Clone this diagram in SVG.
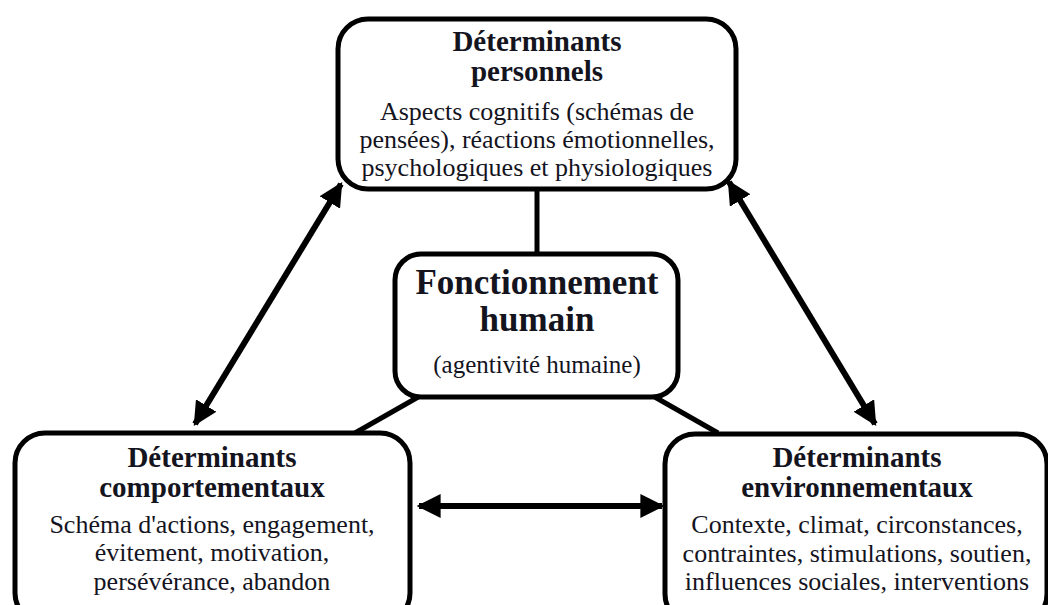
<svg xmlns="http://www.w3.org/2000/svg" width="1048" height="605" viewBox="0 0 1048 605">
<defs>
<marker id="ah" viewBox="0 0 10 10" refX="9" refY="5" markerWidth="4" markerHeight="4" markerUnits="strokeWidth" orient="auto-start-reverse">
<path d="M0,0 L10,5 L0,10 z" fill="#000"/>
</marker>
<style>
.box{fill:#fff;stroke:#000;stroke-width:5}
.ln{stroke:#000;stroke-width:5;fill:none}
.ar{stroke:#000;stroke-width:6;fill:none;marker-start:url(#ah);marker-end:url(#ah)}
text{font-family:"Liberation Serif","Times New Roman",serif;fill:#14141e;text-anchor:middle}
.t{font-weight:bold;font-size:29px}
.b{font-size:26px}
.tc{font-weight:bold;font-size:35px}
.a{font-size:25px}
</style>
</defs>
<rect width="1048" height="605" fill="#fff"/>
<g id="connectors">
<line class="ln" x1="537" y1="190" x2="537" y2="254"/>
<line class="ln" x1="420" y1="396" x2="355" y2="433"/>
<line class="ln" x1="653" y1="396" x2="718" y2="433"/>
<line class="ar" x1="341" y1="184" x2="195" y2="424"/>
<line class="ar" x1="729" y1="182" x2="875" y2="424"/>
<line class="ar" x1="419" y1="506" x2="662" y2="506"/>
</g>
<g id="personnels">
<rect class="box" x="338" y="19" width="398" height="170" rx="30"/>
<text class="t" x="537" y="51">Déterminants</text>
<text class="t" x="537" y="81">personnels</text>
<text class="b" x="537" y="120">Aspects cognitifs (schémas de</text>
<text class="b" x="537" y="148">pensées), réactions émotionnelles,</text>
<text class="b" x="537" y="176">psychologiques et physiologiques</text>
</g>
<g id="fonctionnement">
<rect class="box" x="395" y="254" width="283" height="143" rx="26"/>
<text class="tc" x="537" y="294">Fonctionnement</text>
<text class="tc" x="537" y="331">humain</text>
<text class="a" x="537" y="373">(agentivité humaine)</text>
</g>
<g id="comportementaux">
<rect class="box" x="15" y="433" width="395" height="190" rx="30"/>
<text class="t" x="212" y="467">Déterminants</text>
<text class="t" x="212" y="497">comportementaux</text>
<text class="b" x="212" y="533">Schéma d'actions, engagement,</text>
<text class="b" x="212" y="561">évitement, motivation,</text>
<text class="b" x="212" y="590">persévérance, abandon</text>
</g>
<g id="environnementaux">
<rect class="box" x="665" y="434" width="382" height="190" rx="30"/>
<text class="t" x="857" y="467">Déterminants</text>
<text class="t" x="857" y="497">environnementaux</text>
<text class="b" x="857" y="533">Contexte, climat, circonstances,</text>
<text class="b" x="857" y="562">contraintes, stimulations, soutien,</text>
<text class="b" x="857" y="590">influences sociales, interventions</text>
</g>
</svg>
